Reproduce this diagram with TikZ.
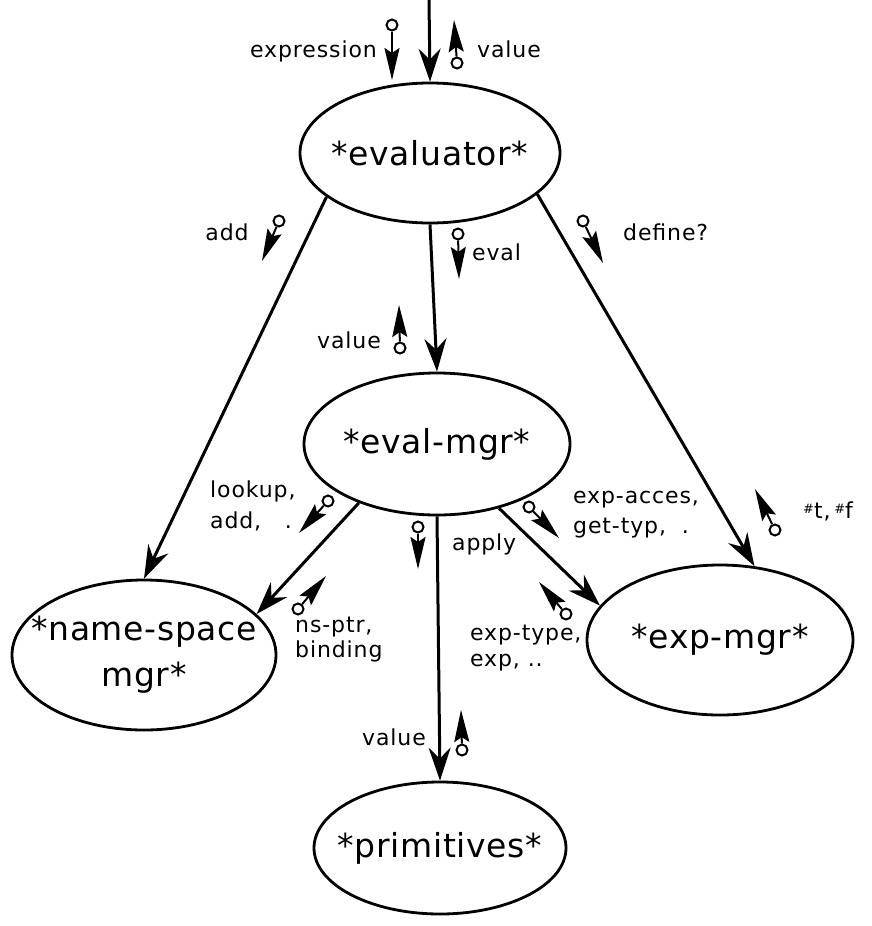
\documentclass[tikz,border=0pt]{standalone}
\usepackage{fontspec}
\setmainfont{DejaVu Sans}
\newfontfamily\labfont[LetterSpace=4]{DejaVu Sans}
\newfontfamily\bigfont[LetterSpace=2]{DejaVu Sans}
\usetikzlibrary{shapes.geometric,arrows.meta}
\begin{document}
\begin{tikzpicture}[x=1pt,y=-1pt,
  ell/.style={draw, ellipse, line width=2.8pt, inner sep=0pt},
  big/.style={font=\bigfont\fontsize{33}{46}\selectfont, align=center, inner sep=0pt},
  lab/.style={font=\labfont\fontsize{22}{27}\selectfont, inner sep=0pt},
  mainarr/.style={line width=3pt, -{Stealth[length=33pt,width=22pt,inset=11pt]}},
  sig/.style={line width=2pt, -{Stealth[length=32pt,width=15pt,inset=5pt]}},
  dot/.style={draw, circle, line width=2pt, minimum size=11pt, inner sep=0pt}
]
\useasboundingbox (0,0) rectangle (871,926);
% ellipses
\node[ell, minimum width=260pt, minimum height=140pt] (ev) at (430,153) {};
\node[ell, minimum width=266pt, minimum height=142pt] (em) at (437,444) {};
\node[ell, minimum width=264pt, minimum height=150pt] (ns) at (144,655) {};
\node[ell, minimum width=266pt, minimum height=150pt] (xm) at (720,640) {};
\node[ell, minimum width=252pt, minimum height=132pt] (pr) at (440,848) {};
\node[big] (evt) at (ev) {*evaluator*};
\node[big] (emt) at (em) {*eval-mgr*};
\node[big] (nst) at (ns) {*name-space\\mgr*};
\node[big] (xmt) at (xm) {*exp-mgr*};
\node[big] (prt) at (pr) {*primitives*};
% main connectors
\coordinate (in) at (429,0);
\draw[mainarr] (in) -- (ev.north);
\draw[mainarr] (ev.south) -- (em.north);
\draw[mainarr] (ev.203.6) -- (ns.north);
\draw[mainarr] (ev.339.5) -- (xm.65.7);
\draw[mainarr] (em.217.7) -- (ns.20);
\draw[mainarr] (em.314.5) -- (xm.164.4);
\draw[mainarr] (em.south) -- (pr.north);
% signal arrows
\node[dot] (d1) at (392,25) {};   \coordinate (t1) at (392,80);  \draw[sig] (d1) -- (t1);
\node[dot] (d2) at (457,63) {};   \coordinate (t2) at (454,20);  \draw[sig] (d2) -- (t2);
\node[dot] (d3) at (279,221) {};  \coordinate (t3) at (262,261); \draw[sig] (d3) -- (t3);
\node[dot] (d4) at (458,234) {};  \coordinate (t4) at (459,279); \draw[sig] (d4) -- (t4);
\node[dot] (d5) at (400,348) {};  \coordinate (t5) at (399,305); \draw[sig] (d5) -- (t5);
\node[dot] (d6) at (583,221) {};  \coordinate (t6) at (603,263); \draw[sig] (d6) -- (t6);
\node[dot] (d7) at (328,501) {};  \coordinate (t7) at (299,533); \draw[sig] (d7) -- (t7);
\node[dot] (d8) at (298,609) {};  \coordinate (t8) at (326,576); \draw[sig] (d8) -- (t8);
\node[dot] (d9) at (418,527) {};  \coordinate (t9) at (418,569); \draw[sig] (d9) -- (t9);
\node[dot] (d10) at (529,507) {}; \coordinate (t10) at (559,538); \draw[sig] (d10) -- (t10);
\node[dot] (d11) at (566,614) {}; \coordinate (t11) at (539,582); \draw[sig] (d11) -- (t11);
\node[dot] (d12) at (775,530) {}; \coordinate (t12) at (755,489); \draw[sig] (d12) -- (t12);
\node[dot] (d13) at (462,750) {}; \coordinate (t13) at (461,710); \draw[sig] (d13) -- (t13);
% labels
\node[lab, anchor=base east] (l1) at (377,57) {expression};
\node[lab, anchor=base west] (l2) at (477,57) {value};
\node[lab, anchor=base] (l3) at (227,240) {add};
\node[lab, anchor=base west] (l4) at (472,260) {eval};
\node[lab, anchor=base east] (l5) at (381,348) {value};
\node[lab, anchor=base west] (l6) at (623,240) {define?};
\node[lab, anchor=base west] (l7a) at (210,497) {lookup,};
\node[lab, anchor=base west] (l7b) at (210,528) {add,\ \ \ .};
\node[lab, anchor=base west] (l8a) at (295,632) {ns-ptr,};
\node[lab, anchor=base west] (l8b) at (295,657) {binding};
\node[lab, anchor=base west] (l9) at (452,550) {apply};
\node[lab, anchor=base west] (l10a) at (573,503) {exp-acces,};
\node[lab, anchor=base west] (l10b) at (573,533) {get-typ,\ \ .};
\node[lab, anchor=base west] (l11a) at (470,640) {exp-type,};
\node[lab, anchor=base west] (l11b) at (470,666) {exp,\ ..};
\node[lab, anchor=base west] (l12) at (803,518) {\raisebox{5pt}{\fontsize{13}{13}\selectfont\#}t,\,\raisebox{5pt}{\fontsize{13}{13}\selectfont\#}f};
\node[lab, anchor=base east] (l13) at (426,745) {value};
\end{tikzpicture}
\end{document}
